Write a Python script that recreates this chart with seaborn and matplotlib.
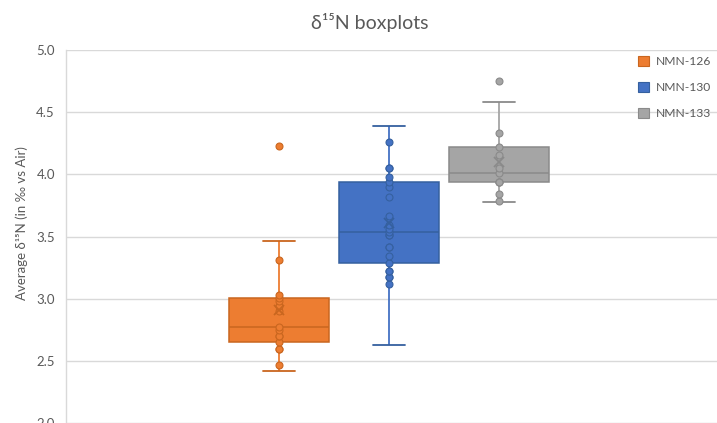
import numpy as np
import pandas as pd
import seaborn as sns
import matplotlib.pyplot as plt
from matplotlib.patches import Patch
from matplotlib import cbook

# Average δ15N per specimen (‰ vs Air)
samples = ["NMN-126", "NMN-130", "NMN-133"]
nmn126 = [2.42, 2.465, 2.594, 2.594, 2.655, 2.70, 2.70, 2.745, 2.77,
          2.90, 2.942, 2.982, 3.005, 3.028, 3.309, 3.465, 4.226]
nmn130 = [2.63, 3.114, 3.173, 3.173, 3.226, 3.226, 3.288, 3.344, 3.416,
          3.416, 3.510, 3.510, 3.534, 3.559, 3.593, 3.666, 3.818, 3.896,
          3.941, 3.982, 4.051, 4.051, 4.258, 4.39, 4.39]
nmn133 = [3.775, 3.786, 3.84, 3.94, 3.94, 3.94, 4.014, 4.054, 4.156,
          4.22, 4.335, 4.58, 4.75]
yticks = [2.0, 2.5, 3.0, 3.5, 4.0, 4.5, 5.0]

fills = ["#ED7D31", "#4472C4", "#A5A5A5"]
darks = ["#C9661F", "#35609F", "#8A8A8A"]
text_gray = "#595959"

df = pd.DataFrame({
    "sample": np.repeat(samples, [len(nmn126), len(nmn130), len(nmn133)]),
    "d15N": nmn126 + nmn130 + nmn133,
})

sns.set_theme(style="white")
plt.rcParams["font.family"] = ["Lato", "Noto Sans", "DejaVu Sans"]

W, H = 717, 423
fig = plt.figure(figsize=(W / 100, H / 100), dpi=100)
ax = fig.add_axes([66 / W, 0.0, 1 - 66 / W, 1 - 50 / H])

box_w = 0.909
for s, fc, dc in zip(samples, fills, darks):
    sub = df[df["sample"] == s]
    sns.boxplot(
        data=sub, x="sample", y="d15N", order=samples,
        color=fc, saturation=1, width=box_w, whis=1.5,
        linecolor=dc, linewidth=1.1,
        showmeans=True,
        meanprops=dict(marker="x", markeredgecolor=dc, markersize=7,
                       markeredgewidth=1.3, zorder=5),
        whiskerprops=dict(color=fc, linewidth=1.3),
        capprops=dict(color=dc, linewidth=1.3),
        medianprops=dict(color=dc, linewidth=1.1),
        flierprops=dict(marker="o", markerfacecolor=fc, markeredgecolor=dc,
                        markersize=5, markeredgewidth=0.8),
        ax=ax,
    )
    # inner points, leaving out the whisker end values and the outliers
    st = cbook.boxplot_stats(sub["d15N"].to_numpy(), whis=1.5)[0]
    inner = sub[(sub["d15N"] > st["whislo"]) & (sub["d15N"] < st["whishi"])]
    sns.stripplot(
        data=inner, x="sample", y="d15N", order=samples, jitter=False,
        color=fc, edgecolor=dc, linewidth=0.8, size=5, zorder=4, ax=ax,
    )

# narrower whisker caps
cap_half = 0.145
for ln in ax.lines:
    xd, yd = np.asarray(ln.get_xdata(), float), np.asarray(ln.get_ydata(), float)
    if len(xd) == 2 and yd[0] == yd[1] and 0 < abs(xd[1] - xd[0]) < 0.6 * box_w:
        c = xd.mean()
        ln.set_xdata([c - cap_half, c + cap_half])

ax.set_xlim((66 - 279) / 110, (717 - 279) / 110)
ax.set_ylim(2.0, 5.0)
ax.set_yticks(yticks)
ax.set_yticklabels([f"{t:.1f}" for t in yticks])
ax.set_xticks([])
ax.set_xlabel("")
ax.set_ylabel("")
ax.yaxis.grid(True, color="#D9D9D9", linewidth=1)
ax.set_axisbelow(True)
ax.tick_params(axis="y", length=0, pad=8, labelsize=9.5, labelcolor=text_gray)
for side in ["top", "right", "bottom"]:
    ax.spines[side].set_visible(False)
ax.spines["left"].set_color("#D9D9D9")
ax.spines["left"].set_linewidth(1)

fig.text(370 / W, 1 - 22 / H, "δ¹⁵N boxplots", ha="center", va="center",
         fontsize=14, color=text_gray)
fig.text(22 / W, 1 - 223 / H, "Average δ¹⁵N (in ‰ vs Air)", rotation=90,
         ha="center", va="center", fontsize=9.5, color=text_gray)

handles = [Patch(facecolor=fc, edgecolor=dc, linewidth=0.8, label=s)
           for s, fc, dc in zip(samples, fills, darks)]
fig.legend(handles=handles, loc="upper left",
           bbox_to_anchor=(627 / W, 1 - 45 / H), frameon=False,
           fontsize=8.7, labelcolor=text_gray, handlelength=0.95,
           handleheight=0.85, handletextpad=0.5, labelspacing=1.25)

fig.savefig("out.png", dpi=100, facecolor="white")
